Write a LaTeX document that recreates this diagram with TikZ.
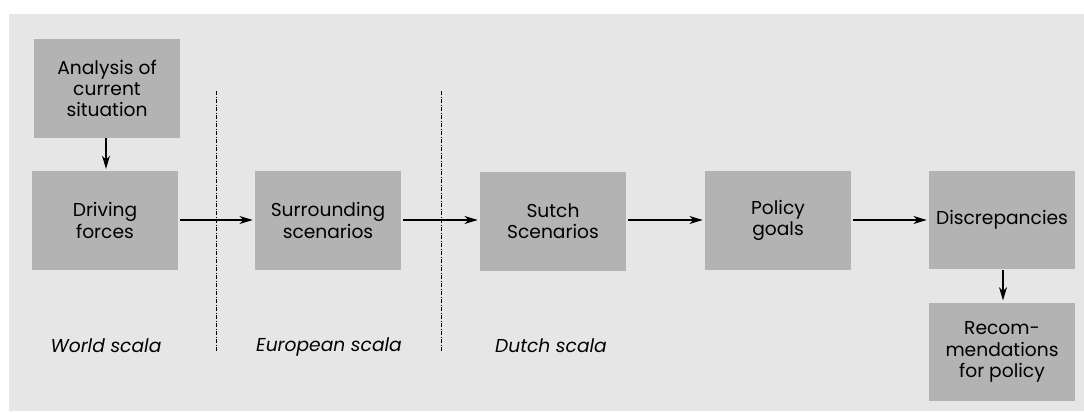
\documentclass[tikz,border=0pt]{standalone}
\usepackage{fontspec}
\setmainfont{Poppins}
\usetikzlibrary{arrows.meta}
\definecolor{bgc}{HTML}{E6E6E6}
\definecolor{boxc}{HTML}{B3B3B3}
\begin{document}
\begin{tikzpicture}[x=0.75pt,y=-0.75pt,
  box/.style={fill=boxc,draw=none,minimum width=109.5pt,minimum height=74pt,inner sep=0pt,align=center,font=\fontsize{14}{16}\selectfont},
  scalelabel/.style={font=\fontsize{14}{16}\selectfont\itshape,inner sep=0pt},
  flow/.style={-{Stealth[length=10pt,width=6pt,inset=3pt]},line width=0.9pt,shorten >=1.5pt,shorten <=1.5pt},
  divider/.style={line width=0.6pt,dash pattern=on 3pt off 1.2pt on 0.6pt off 1.2pt}]
\useasboundingbox (0,0) rectangle (1084,412);
\fill[bgc] (9,14) rectangle (1084,411);
\node[box] (analysis) at (107,88.5) {Analysis of\\current\\situation};
\node[box] (driving) at (105,220.5) {Driving\\forces};
\node[box] (surround) at (328,220.5) {Surrounding\\scenarios};
\node[box] (sutch) at (553,221.5) {Sutch\\Scenarios};
\node[box] (policy) at (778,220.5) {Policy\\goals};
\node[box] (discr) at (1002,220) {Discrepancies};
\node[box] (recom) at (1002,352) {Recom-\\mendations\\for policy};
\node[scalelabel] (world) at (106,346) {World scala};
\node[scalelabel] (europe) at (329,347) {European scala};
\node[scalelabel] (dutch) at (551,346) {Dutch scala};
\coordinate (d1top) at (216,91);
\coordinate (d1bot) at (216,352);
\coordinate (d2top) at (441,91);
\coordinate (d2bot) at (441,351);
\draw[divider] (d1top) -- (d1bot);
\draw[divider] (d2top) -- (d2bot);
\draw[flow,shorten <=0pt] (analysis.south -| 106,0) -- (driving.north -| 106,0);
\draw[flow] (driving.east |- 0,220) -- (surround.west |- 0,220);
\draw[flow] (surround.east |- 0,220) -- (sutch.west |- 0,220);
\draw[flow] (sutch.east |- 0,220) -- (policy.west |- 0,220);
\draw[flow] (policy.east |- 0,220) -- (discr.west |- 0,220);
\draw[flow,shorten <=0pt] (discr.south -| 1003,0) -- (recom.north -| 1003,0);
\end{tikzpicture}
\end{document}
